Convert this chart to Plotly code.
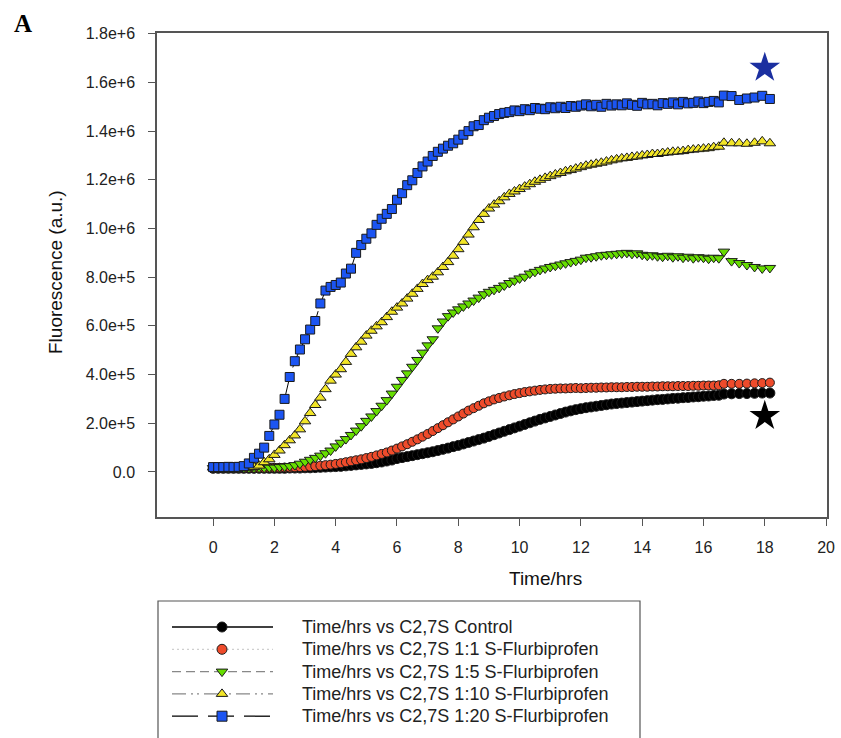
import plotly.graph_objects as go

# sampling times (minutes)
time_min = [0, 10, 20, 30, 40, 50, 60, 70, 80, 90, 100, 110,
            120, 130, 140, 150, 160, 170, 180, 190, 200, 210, 220, 230,
            240, 250, 260, 270, 280, 290, 300, 310, 320, 330, 340, 350,
            360, 370, 380, 390, 400, 410, 420, 430, 440, 450, 460, 470,
            480, 490, 500, 510, 520, 530, 540, 550, 560, 570, 580, 590,
            600, 610, 620, 630, 640, 650, 660, 670, 680, 690, 700, 710,
            720, 730, 740, 750, 760, 770, 780, 790, 800, 810, 820, 830,
            840, 850, 860, 870, 880, 890, 900, 910, 920, 930, 940, 950,
            960, 970, 980, 990, 1000,
            1015, 1030, 1045, 1060, 1075, 1090]

# fluorescence values (thousands, a.u.)
control = [15, 15, 15, 15, 15, 15,
           15, 15, 15, 15, 15, 15,
           15, 15, 15, 16, 16, 16,
           17, 17, 18, 19, 20, 21,
           22, 23, 25, 27, 29, 31,
           33, 35, 38, 41, 45, 49,
           55, 59, 63, 67, 71, 75,
           79, 83, 88, 93, 98, 104,
           109, 115, 121, 127, 133, 139,
           146, 153, 160, 167, 174, 181,
           188, 195, 202, 209, 216, 222,
           228, 234, 240, 246, 251, 256,
           260, 264, 267, 270, 273, 276,
           279, 281, 283, 285, 287, 289,
           291, 293, 295, 297, 298, 300,
           302, 303, 305, 306, 308, 309,
           311, 312, 314, 315, 320,
           321, 322, 322, 323, 324, 324]

ratio_1_1 = [16, 16, 16, 16, 16, 16,
             16, 16, 16, 16, 16, 17,
             17, 17, 18, 18, 19, 20,
             21, 22, 24, 26, 28, 30,
             33, 36, 40, 44, 48, 52,
             57, 62, 68, 74, 80, 88,
             96, 105, 114, 124, 134, 145,
             156, 168, 180, 192, 204, 216,
             228, 240, 252, 262, 272, 282,
             290, 298, 304, 310, 315, 320,
             324, 328, 331, 334, 337, 339,
             341, 342, 343, 343, 344, 345,
             344, 345, 346, 346, 347, 347,
             348, 348, 348, 349, 349, 350,
             350, 350, 351, 351, 352, 352,
             352, 353, 353, 353, 354, 354,
             355, 355, 355, 356, 362,
             362, 362, 363, 364, 365, 367]

ratio_1_5 = [16, 16, 16, 16, 16, 16,
             16, 16, 16, 17, 17, 18,
             18, 20, 22, 24, 28, 34,
             42, 50, 58, 67, 77, 88,
             105, 120, 135, 152, 170, 188,
             210, 228, 250, 272, 295, 322,
             350, 378, 405, 432, 460, 490,
             520, 545, 590, 618, 640, 655,
             668, 680, 692, 704, 716, 730,
             740, 748, 756, 766, 776, 786,
             795, 802, 815, 822, 830, 836,
             842, 847, 852, 857, 862, 867,
             872, 880, 882, 886, 890, 892,
             894, 896, 898, 900, 896, 898,
             892, 888, 890, 886, 884, 888,
             882, 886, 880, 884, 878, 882,
             880, 876, 880, 878, 905,
             866, 858, 850, 842, 836, 838]

ratio_1_10 = [18, 18, 18, 18, 18, 18,
              18, 18, 20, 26, 40, 52,
              70, 88, 110, 130, 150, 175,
              208, 242, 275, 305, 340, 375,
              400, 422, 452, 485, 512, 535,
              560, 580, 598, 615, 636, 658,
              675, 692, 712, 732, 752, 772,
              788, 802, 820, 842, 862, 888,
              915, 945, 975, 1005, 1035, 1060,
              1082, 1098, 1112, 1128, 1142, 1152,
              1162, 1172, 1182, 1192, 1200, 1208,
              1215, 1222, 1228, 1235, 1240, 1246,
              1252, 1258, 1262, 1266, 1270, 1275,
              1280, 1284, 1288, 1290, 1294, 1296,
              1300, 1302, 1306, 1306, 1310, 1312,
              1315, 1316, 1318, 1322, 1324, 1326,
              1328, 1330, 1334, 1336, 1352,
              1350, 1350, 1348, 1352, 1358, 1350]

ratio_1_20 = [20, 20, 20, 21, 20, 21,
              24, 35, 58, 75, 100, 148,
              195, 235, 300, 390, 455, 503,
              545, 585, 620, 692, 745, 760,
              768, 778, 815, 835, 900, 932,
              958, 980, 1015, 1040, 1060, 1080,
              1118, 1145, 1178, 1198, 1228, 1255,
              1275, 1298, 1315, 1328, 1340, 1350,
              1365, 1385, 1400, 1420, 1425, 1445,
              1455, 1462, 1470, 1475, 1478, 1485,
              1482, 1490, 1486, 1495, 1492, 1490,
              1498, 1494, 1500, 1495, 1503, 1500,
              1505, 1510, 1502, 1508, 1500, 1512,
              1505, 1510, 1506, 1514, 1508, 1504,
              1516, 1510, 1512, 1506, 1515, 1512,
              1518, 1510, 1520, 1514, 1516, 1522,
              1515, 1520, 1524, 1518, 1546,
              1544, 1528, 1534, 1538, 1545, 1532]

series_names = ["Time/hrs vs C2,7S Control",
                "Time/hrs vs C2,7S 1:1 S-Flurbiprofen",
                "Time/hrs vs C2,7S 1:5 S-Flurbiprofen",
                "Time/hrs vs C2,7S 1:10 S-Flurbiprofen",
                "Time/hrs vs C2,7S 1:20 S-Flurbiprofen"]

# significance stars
star_t = [18.0, 18.0]
star_v = [1660, 230]

x_ticks = [0, 2, 4, 6, 8, 10, 12, 14, 16, 18, 20]
y_tickvals = [0, 2e5, 4e5, 6e5, 8e5, 1e6, 1.2e6, 1.4e6, 1.6e6, 1.8e6]
y_ticktext = ["0.0", "2.0e+5", "4.0e+5", "6.0e+5", "8.0e+5",
              "1.0e+6", "1.2e+6", "1.4e+6", "1.6e+6", "1.8e+6"]

t_hr = [m / 60 for m in time_min]

# ---------------- styling / layout constants ----------------
W, H = 841, 738
PL, PR, PT, PB = 157, 827, 33, 517          # plot area in px
FONT = "Liberation Sans, Arial, sans-serif"

styles = [
    dict(symbol="circle", fill="#000000", size=10, lcolor="#000000", dash="solid"),
    dict(symbol="circle", fill="#EE4B2B", size=9, lcolor="#cfcfcf", dash="2px,3px"),
    dict(symbol="triangle-down", fill="#66DD00", size=10, lcolor="#8a8a8a", dash="9px,5px"),
    dict(symbol="triangle-up", fill="#F2E527", size=10, lcolor="#8a8a8a", dash="14px,5px,2px,4px,2px,5px"),
    dict(symbol="square", fill="#1C55F2", size=9, lcolor="#000000", dash="26px,10px"),
]
all_series = [control, ratio_1_1, ratio_1_5, ratio_1_10, ratio_1_20]


def px_x(p):
    return p / W


def px_y(p):
    return 1 - p / H


fig = go.Figure()
for name, vals, st in zip(series_names, all_series, styles):
    fig.add_trace(go.Scatter(
        x=t_hr, y=[v * 1000 for v in vals], name=name, mode="lines+markers",
        line=dict(color=st["lcolor"], width=1, dash=st["dash"]),
        marker=dict(symbol=st["symbol"], size=st["size"], color=st["fill"],
                    line=dict(color="#1a1a1a", width=1)),
        showlegend=False, xaxis="x", yaxis="y",
    ))

fig.add_trace(go.Scatter(
    x=star_t, y=[v * 1000 for v in star_v], mode="markers", showlegend=False,
    marker=dict(symbol="star", size=23, color=["#1B2FA0", "#000000"], line=dict(width=0)),
    xaxis="x", yaxis="y",
))

# ---------------- hand-drawn legend (pixel overlay axes) ----------------
LEG_BOX = (158, 601, 640, 745)
LEG_X0, LEG_X1, LEG_XM = 172, 273, 222
LEG_TEXT_X = 300
LEG_Y0, LEG_DY = 627, 22.3

shapes = [dict(type="rect", xref="paper", yref="paper",
               x0=px_x(LEG_BOX[0]), x1=px_x(LEG_BOX[2]),
               y0=px_y(LEG_BOX[3]), y1=px_y(LEG_BOX[1]),
               line=dict(color="#555555", width=1.2), fillcolor="white", layer="below")]

annotations = []
for i, (name, st) in enumerate(zip(series_names, styles)):
    ry = LEG_Y0 + i * LEG_DY
    fig.add_trace(go.Scatter(
        x=[LEG_X0, LEG_X1], y=[ry, ry], mode="lines", showlegend=False, hoverinfo="skip",
        line=dict(color=st["lcolor"] if i not in (2, 3) else "#888888", width=1.3, dash=st["dash"]),
        xaxis="x2", yaxis="y2",
    ))
    fig.add_trace(go.Scatter(
        x=[LEG_XM], y=[ry], mode="markers", showlegend=False, hoverinfo="skip",
        marker=dict(symbol=st["symbol"], size=10, color=st["fill"],
                    line=dict(color="#1a1a1a", width=1)),
        xaxis="x2", yaxis="y2",
    ))
    annotations.append(dict(
        text=name, xref="paper", yref="paper", x=px_x(LEG_TEXT_X), y=px_y(ry),
        xanchor="left", yanchor="middle", showarrow=False,
        font=dict(family=FONT, size=18, color="#222222")))

annotations += [
    dict(text="Time/hrs", xref="paper", yref="paper", x=px_x(545), y=px_y(578),
         xanchor="center", yanchor="middle", showarrow=False,
         font=dict(family=FONT, size=19, color="#111111")),
    dict(text="Fluorescence (a.u.)", xref="paper", yref="paper", x=px_x(55),
         y=px_y(272), textangle=-90, xanchor="center", yanchor="middle",
         showarrow=False, font=dict(family=FONT, size=19, color="#111111")),
    dict(text="<b>A</b>", xref="paper", yref="paper", x=px_x(12),
         y=px_y(24), xanchor="left", yanchor="middle", showarrow=False,
         font=dict(family="Liberation Serif, Times New Roman, serif", size=25, color="#000000")),
]

fig.update_layout(
    width=W, height=H,
    margin=dict(l=0, r=0, t=0, b=0, autoexpand=False),
    paper_bgcolor="white", plot_bgcolor="rgba(0,0,0,0)",
    font=dict(family=FONT, color="#222222"),
    showlegend=False,
    xaxis=dict(
        domain=[px_x(PL), px_x(PR)],
        range=[-1.83, 20.03], tickvals=x_ticks, ticktext=[str(v) for v in x_ticks],
        showgrid=False, zeroline=False, showline=True, linecolor="#555555", linewidth=1.5,
        mirror=True, ticks="outside", ticklen=7, tickcolor="#555555",
        ticklabelstandoff=8,
        tickfont=dict(family=FONT, size=16, color="#222222"), anchor="y",
    ),
    yaxis=dict(
        domain=[px_y(PB), px_y(PT)],
        range=[-185000, 1803000], tickvals=y_tickvals, ticktext=y_ticktext,
        showgrid=False, zeroline=False, showline=True, linecolor="#555555", linewidth=1.5,
        mirror=True, ticks="outside", ticklen=7, tickcolor="#555555",
        ticklabelstandoff=10,
        tickfont=dict(family=FONT, size=16, color="#222222"), anchor="x",
    ),
    xaxis2=dict(domain=[0, 1], range=[0, W], visible=False, fixedrange=True, anchor="y2"),
    yaxis2=dict(domain=[0, 1], range=[H, 0], visible=False, fixedrange=True, anchor="x2"),
    shapes=shapes,
    annotations=annotations,
)

fig.write_html("out.html")
